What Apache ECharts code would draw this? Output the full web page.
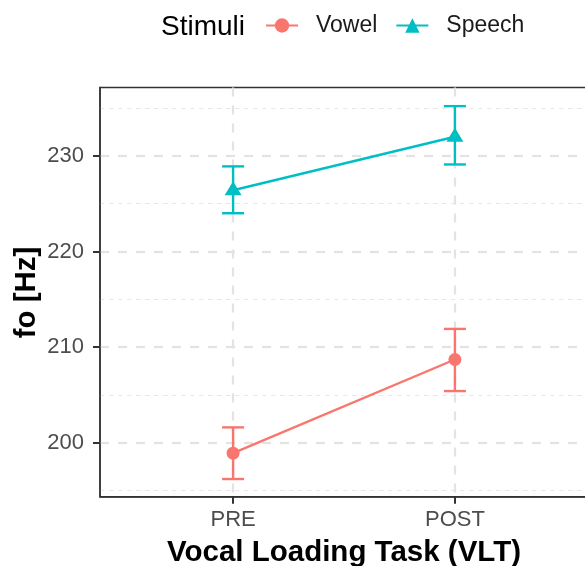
<!DOCTYPE html>
<html><head><meta charset="utf-8">
<script src="https://cdn.jsdelivr.net/npm/echarts@6/dist/echarts.min.js"></script>
<style>html,body{margin:0;padding:0;background:#fff}#c{width:585px;height:566px}</style>
</head><body><div id="c"></div>
<script>
const categories = ['PRE', 'POST'];
const seriesNames = ['Vowel', 'Speech'];
const vowelMean = [198.9, 208.7];
const vowelLow = [196.2, 205.4];
const vowelHigh = [201.6, 211.9];
const speechMean = [226.4, 232.0];
const speechLow = [224.0, 229.1];
const speechHigh = [228.9, 235.2];
const yMajorTicks = [200, 210, 220, 230];
const yMinorTicks = [195, 205, 215, 225, 235];
const catPos = categories.map((c, i) => i + 1);
const yTitle = 'fo [Hz]';
const xTitle = 'Vocal Loading Task (VLT)';

const FONT = 'Liberation Sans, Arial, Helvetica, sans-serif';
const colors = ['#F8766D', '#00BFC4'];

function pts(means) { return means.map((m, i) => [catPos[i], m]); }
function bars(lo, hi) { return lo.map((l, i) => [catPos[i], l, hi[i]]); }

function errRender(color) {
  return function (params, api) {
    const x = api.value(0), lo = api.value(1), hi = api.value(2);
    const a = api.coord([x, lo]), b = api.coord([x, hi]);
    const hw = 11;
    const st = { stroke: color, lineWidth: 2.4 };
    return {
      type: 'group', children: [
        { type: 'line', shape: { x1: a[0], y1: a[1], x2: b[0], y2: b[1] }, style: st },
        { type: 'line', shape: { x1: a[0] - hw, y1: a[1], x2: a[0] + hw, y2: a[1] }, style: st },
        { type: 'line', shape: { x1: b[0] - hw, y1: b[1], x2: b[0] + hw, y2: b[1] }, style: st }
      ]
    };
  };
}

const chart = echarts.init(document.getElementById('c'), null, { renderer: 'canvas' });
chart.setOption({
  animation: false,
  backgroundColor: '#fff',
  textStyle: { fontFamily: FONT },
  title: {
    text: 'Stimuli', left: 161, top: 13, padding: 0,
    textStyle: { fontFamily: FONT, fontSize: 28, fontWeight: 'normal', color: '#000' }
  },
  legend: {
    data: seriesNames, left: 265, top: 14, padding: 0,
    itemWidth: 32, itemHeight: 18, itemGap: 18,
    textStyle: { fontFamily: FONT, fontSize: 23, color: '#1a1a1a', padding: [0, 0, 0, 13] }
  },
  graphic: [{
    type: 'text', x: 27, y: 292.5, rotation: Math.PI / 2, silent: true,
    style: {
      text: yTitle, fontFamily: FONT, fontSize: 29.5, fontWeight: 'bold', fill: '#000',
      align: 'center', verticalAlign: 'middle'
    }
  }],
  grid: {
    left: 100, top: 87.5, right: -3, height: 409.2,
    outerBoundsMode: 'none', containLabel: false,
    show: true, borderColor: '#333', borderWidth: 1.5, backgroundColor: '#fff'
  },
  xAxis: {
    type: 'value', min: 0.4, max: 2.6,
    name: xTitle, nameLocation: 'middle', nameGap: 41,
    nameTextStyle: { fontFamily: FONT, fontSize: 29.5, fontWeight: 'bold', color: '#000' },
    axisLine: { show: true, lineStyle: { color: '#333', width: 1.5 } },
    axisTick: { show: true, length: 7, customValues: catPos, lineStyle: { color: '#333', width: 2 } },
    axisLabel: {
      customValues: catPos, margin: 12, fontSize: 22, color: '#4d4d4d', fontFamily: FONT,
      formatter: v => categories[Math.round(v) - 1]
    },
    splitLine: { show: true, lineStyle: { color: '#e3e3e3', width: 2.2, type: [9, 9] } }
  },
  yAxis: [{
    type: 'value', min: 194.35, max: 237.15,
    axisLine: { show: true, lineStyle: { color: '#333', width: 1.5 } },
    axisTick: { show: true, length: 7, customValues: yMajorTicks, lineStyle: { color: '#333', width: 2 } },
    axisLabel: { customValues: yMajorTicks, margin: 16, fontSize: 22, color: '#4d4d4d', fontFamily: FONT },
    splitLine: { show: true, lineStyle: { color: '#e3e3e3', width: 2.2, type: [9, 9] } }
  }, {
    type: 'value', min: 194.35, max: 237.15, position: 'left',
    axisLine: { show: false },
    axisTick: { show: false, customValues: yMinorTicks },
    axisLabel: { show: false, customValues: yMinorTicks },
    splitLine: { show: true, lineStyle: { color: '#e8e8e8', width: 1.1, type: [4.5, 4.5] } }
  }],
  series: [
    {
      name: 'Vowel err', type: 'custom', renderItem: errRender(colors[0]),
      data: bars(vowelLow, vowelHigh), encode: { x: 0, y: [1, 2] }, z: 3
    },
    {
      name: 'Speech err', type: 'custom', renderItem: errRender(colors[1]),
      data: bars(speechLow, speechHigh), encode: { x: 0, y: [1, 2] }, z: 3
    },
    {
      name: seriesNames[0], type: 'line', data: pts(vowelMean),
      symbol: 'circle', symbolSize: 13, color: colors[0],
      itemStyle: { color: colors[0] }, lineStyle: { color: colors[0], width: 2.4 }, z: 4
    },
    {
      name: seriesNames[1], type: 'line', data: pts(speechMean),
      symbol: 'triangle', symbolSize: [17, 14], symbolOffset: [0, -2], color: colors[1],
      itemStyle: { color: colors[1] }, lineStyle: { color: colors[1], width: 2.4 }, z: 4
    }
  ]
});
</script></body></html>
